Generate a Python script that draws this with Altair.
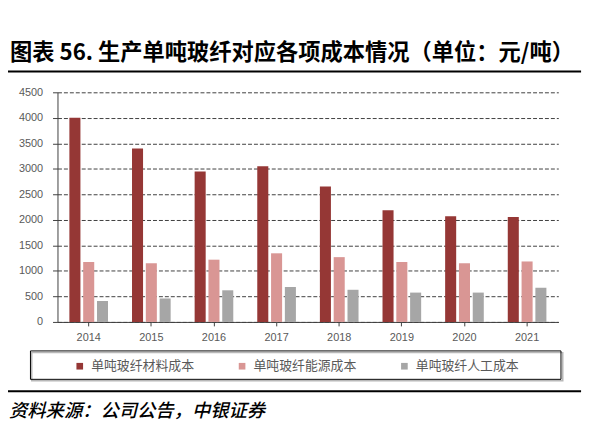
import altair as alt
import pandas as pd

years = ["2014", "2015", "2016", "2017", "2018", "2019", "2020", "2021"]
series_names = ["单吨玻纤材料成本", "单吨玻纤能源成本", "单吨玻纤人工成本"]
material = [4000, 3400, 2950, 3050, 2655, 2190, 2070, 2055]
energy = [1175, 1150, 1220, 1345, 1270, 1175, 1150, 1185]
labor = [410, 460, 620, 685, 630, 575, 575, 670]
colors = ["#953735", "#D99694", "#A6A6A6"]
y_ticks = [0, 500, 1000, 1500, 2000, 2500, 3000, 3500, 4000, 4500]
title_text = ["图表 56. 生产单吨玻纤对应各项成本情况（单位：元/吨）"]
source_text = ["资料来源：公司公告，中银证券"]

rows = []
for i, yr in enumerate(years):
    for name, vals in zip(series_names, [material, energy, labor]):
        rows.append({"year": yr, "series": name, "value": vals[i]})
df = pd.DataFrame(rows)

W, H = 506, 232
AX = "#404040"
LBL = "#595959"

bars = alt.Chart(df).mark_bar().encode(
    x=alt.X("year:N", sort=years,
            scale=alt.Scale(paddingInner=0.383, paddingOuter=0.19),
            axis=alt.Axis(title=None, labelAngle=0, grid=False, domainColor=AX,
                          tickColor=AX, tickSize=4, labelPadding=6,
                          labelFont="Liberation Sans", labelFontSize=11,
                          labelColor=LBL)),
    xOffset=alt.XOffset("series:N", sort=series_names,
                        scale=alt.Scale(paddingInner=0.2, paddingOuter=0)),
    y=alt.Y("value:Q", scale=alt.Scale(domain=[0, 4500], nice=False),
            axis=alt.Axis(title=None, values=y_ticks, format="d", grid=True,
                          gridDash=[4, 2], gridColor=AX, gridWidth=1,
                          domainColor=AX, tickColor=AX, tickSize=5,
                          labelPadding=10, labelFont="Liberation Sans",
                          labelFontSize=11, labelColor=LBL)),
    color=alt.Color("series:N", sort=series_names,
                    scale=alt.Scale(domain=series_names, range=colors),
                    legend=alt.Legend(orient="none", legendX=16, legendY=270,
                                      direction="horizontal", columns=3,
                                      title=None, symbolType="square",
                                      symbolSize=45, symbolStrokeWidth=0,
                                      labelFont="Noto Sans CJK SC",
                                      labelFontSize=13, labelColor=LBL,
                                      labelOffset=5, columnPadding=41,
                                      padding=0)),
)

one = pd.DataFrame({"a": [0]})

title = alt.Chart(pd.DataFrame({"t": title_text})).mark_text(
    align="left", baseline="middle", font="Noto Sans CJK SC", fontSize=22.5,
    fontWeight="bold", color="black"
).encode(x=alt.value(-48), y=alt.value(-40), text="t:N")

top_rule = alt.Chart(one).mark_rule(color="black", strokeWidth=2).encode(
    x=alt.value(-52), x2=alt.value(529), y=alt.value(-21))

bottom_rule = alt.Chart(one).mark_rule(color="black", strokeWidth=2).encode(
    x=alt.value(-52), x2=alt.value(529), y=alt.value(302))

box_shadow = alt.Chart(one).mark_rect(fillOpacity=0, stroke="#b8b8b8", strokeWidth=1.5).encode(
    x=alt.value(-26), x2=alt.value(510.5), y=alt.value(263), y2=alt.value(291.5))

box = alt.Chart(one).mark_rect(fillOpacity=0, stroke="black", strokeWidth=1).encode(
    x=alt.value(-27.3), x2=alt.value(508.7), y=alt.value(261.3), y2=alt.value(290))

source = alt.Chart(pd.DataFrame({"t": source_text})).mark_text(
    align="left", baseline="middle", font="Noto Sans CJK SC", fontSize=18.5,
    fontStyle="italic", fontWeight=500, color="black"
).encode(x=alt.value(-49), y=alt.value(322), text="t:N")

chart = alt.layer(bars, title, top_rule, bottom_rule, box_shadow, box, source).properties(
    width=W, height=H,
    autosize=alt.AutoSizeParams(type="none"),
    padding={"left": 50, "top": 83, "right": 30, "bottom": 107},
).configure_view(stroke=None)

chart.save("out.html", embed_options={"renderer": "svg", "actions": False})
